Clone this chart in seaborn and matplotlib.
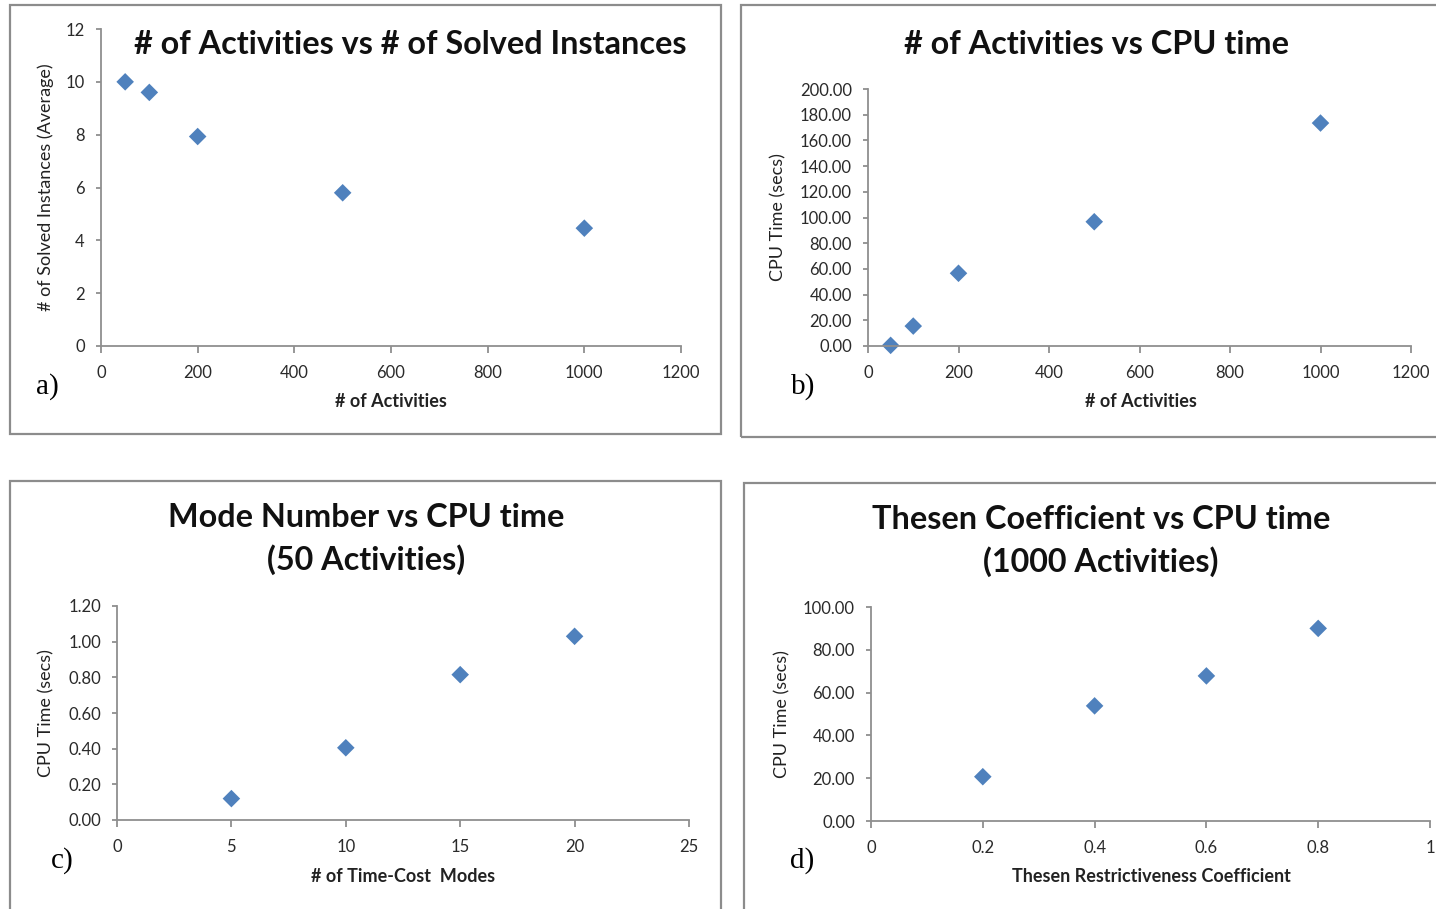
import matplotlib
matplotlib.use("Agg")
import matplotlib.pyplot as plt
from matplotlib.patches import Rectangle
from matplotlib.ticker import FuncFormatter, MultipleLocator
import seaborn as sns

# ---- data ----
act_a = [50, 100, 200, 500, 1000]
solved_a = [10.0, 9.6, 7.93, 5.8, 4.46]

act_b = [50, 100, 200, 500, 1000]
cpu_b = [0.5, 15.5, 56.6, 96.7, 173.5]

modes_c = [5, 10, 15, 20]
cpu_c = [0.12, 0.405, 0.815, 1.03]

thesen_d = [0.2, 0.4, 0.6, 0.8]
cpu_d = [20.7, 53.8, 67.8, 90.0]

titles = ["# of Activities vs # of Solved Instances",
          "# of Activities vs CPU time",
          "Mode Number vs CPU time\n(50 Activities)",
          "Thesen Coefficient vs CPU time\n(1000 Activities)"]
xlabels = ["# of Activities", "# of Activities", "# of Time-Cost  Modes",
           "Thesen Restrictiveness Coefficient"]
ylabels = ["# of Solved Instances (Average)", "CPU Time (secs)",
           "CPU Time (secs)", "CPU Time (secs)"]
panel_tags = ["a)", "b)", "c)", "d)"]

sns.set_style("white")
plt.rcParams["font.family"] = ["Lato", "DejaVu Sans"]

W, H = 1436, 909
fig = plt.figure(figsize=(W / 100, H / 100), dpi=100)
fig.patch.set_facecolor("white")

def fx(x):
    return x / W

def fy(y):
    return 1 - y / H

def add_ax(x0, y0, x1, y1):
    return fig.add_axes([fx(x0), fy(y1), fx(x1 - x0), (y1 - y0) / H])

def frame(x0, y0, x1, y1):
    fig.patches.append(Rectangle((fx(x0), fy(y1)), fx(x1 - x0), (y1 - y0) / H,
                                 transform=fig.transFigure, fill=False,
                                 edgecolor="#8c8c8c", linewidth=1.6))

MARK = "#4F81BD"
AX = "#8f8f8f"

def style(ax, xmax, xstep, ymax, ystep, yfmt, xfmt):
    ax.set_xlim(0, xmax)
    ax.set_ylim(0, ymax)
    ax.xaxis.set_major_locator(MultipleLocator(xstep))
    ax.yaxis.set_major_locator(MultipleLocator(ystep))
    ax.yaxis.set_major_formatter(FuncFormatter(yfmt))
    ax.xaxis.set_major_formatter(FuncFormatter(xfmt))
    for s in ["top", "right"]:
        ax.spines[s].set_visible(False)
    for s in ["left", "bottom"]:
        ax.spines[s].set_color(AX)
        ax.spines[s].set_linewidth(1.3)
    ax.tick_params(axis="both", direction="out", width=1.3,
                   color=AX, labelsize=12, labelcolor="#2a2a2a",
                   left=True, bottom=True)
    ax.tick_params(axis="x", length=5, pad=9)
    ax.tick_params(axis="y", length=3.6, pad=8)
    ax.set_xlabel("")
    ax.set_ylabel("")
    ax.set_facecolor("none")

gfmt = lambda v, p: f"{v:g}"
f2 = lambda v, p: f"{v:.2f}"

frame(10, 5, 721, 434)
frame(741, 5, 1445, 437)
frame(10, 481, 721, 920)
frame(744, 483, 1445, 920)

# panel a
ax = add_ax(101, 29, 681, 346)
sns.scatterplot(x=act_a, y=solved_a, ax=ax, marker="D", color=MARK, s=80,
                edgecolor="none", clip_on=False)
style(ax, 1200, 200, 12, 2, gfmt, gfmt)

# panel b
ax = add_ax(868, 89, 1411, 346)
sns.scatterplot(x=act_b, y=cpu_b, ax=ax, marker="D", color=MARK, s=80,
                edgecolor="none", clip_on=False)
style(ax, 1200, 200, 200, 20, f2, gfmt)

# panel c
ax = add_ax(117, 606, 689, 820)
sns.scatterplot(x=modes_c, y=cpu_c, ax=ax, marker="D", color=MARK, s=80,
                edgecolor="none", clip_on=False)
style(ax, 25, 5, 1.2, 0.2, f2, gfmt)

# panel d
ax = add_ax(871, 607, 1430, 821)
sns.scatterplot(x=thesen_d, y=cpu_d, ax=ax, marker="D", color=MARK, s=80,
                edgecolor="none", clip_on=False)
style(ax, 1, 0.2, 100, 20, f2, gfmt)

# titles
tfont = dict(fontsize=23.3, fontweight="bold", color="#111111", ha="center",
             va="center", linespacing=1.5)
fig.text(fx(410), fy(44), titles[0], **tfont)
fig.text(fx(1097), fy(44), titles[1], **tfont)
fig.text(fx(366), fy(539), titles[2], **tfont)
fig.text(fx(1101), fy(541), titles[3], **tfont)

# x labels
xl = dict(fontsize=13, fontweight="bold", color="#222222", ha="center", va="center")
fig.text(fx(391), fy(401), xlabels[0], **xl)
fig.text(fx(1141), fy(401), xlabels[1], **xl)
fig.text(fx(403), fy(876), xlabels[2], **xl)
fig.text(fx(1151), fy(877), xlabels[3], **xl)

# y labels
yl = dict(fontsize=13, color="#222222", ha="center", va="center", rotation=90)
fig.text(fx(46), fy(187), ylabels[0], **yl)
fig.text(fx(778), fy(217), ylabels[1], **yl)
fig.text(fx(46), fy(713), ylabels[2], **yl)
fig.text(fx(782), fy(714), ylabels[3], **yl)

# panel tags
pt = dict(fontsize=21, family=["Liberation Serif", "DejaVu Serif"], color="black",
          ha="left", va="center")
fig.text(fx(36), fy(387), panel_tags[0], **pt)
fig.text(fx(791), fy(387), panel_tags[1], **pt)
fig.text(fx(51), fy(861), panel_tags[2], **pt)
fig.text(fx(790), fy(861), panel_tags[3], **pt)

fig.savefig("out.png", dpi=100, facecolor="white")
